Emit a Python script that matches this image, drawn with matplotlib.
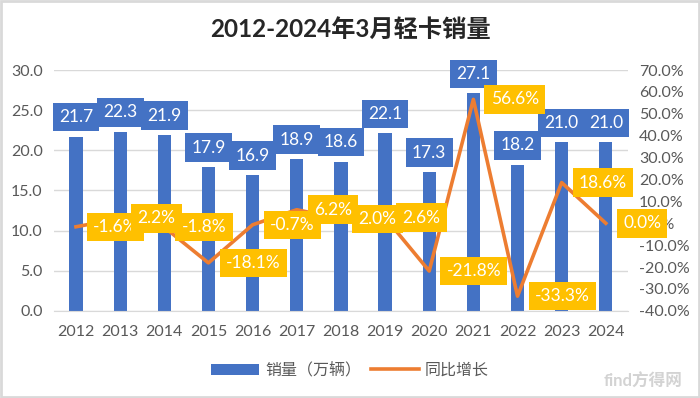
import matplotlib.pyplot as plt
import numpy as np
from matplotlib.patches import Rectangle
from matplotlib.lines import Line2D
from matplotlib.patches import Patch

plt.rcParams['font.family'] = ['Lato', 'Noto Sans CJK SC', 'DejaVu Sans']

years = ['2012', '2013', '2014', '2015', '2016', '2017', '2018',
         '2019', '2020', '2021', '2022', '2023', '2024']
sales = [21.7, 22.3, 21.9, 17.9, 16.9, 18.9, 18.6, 22.1, 17.3, 27.1, 18.2, 21.0, 21.0]
growth = [-1.6, 2.2, -1.8, -18.1, -0.7, 6.2, 2.0, 2.6, -21.8, 56.6, -33.3, 18.6, 0.0]

blue = '#4472C4'
orange = '#ED7D31'
gold = '#FFC000'
grey = '#595959'

fig = plt.figure(figsize=(7, 3.98), dpi=100)
ax = fig.add_axes([0.077, 0.219, 0.82, 0.605])
ax2 = ax.twinx()

x = np.arange(len(years))
ax.bar(x, sales, width=0.3, color=blue, zorder=2)
ax.set_ylim(0, 30)
ax.set_yticks(np.arange(0, 31, 5))
ax.set_yticklabels([f'{v:.1f}' for v in np.arange(0, 31, 5)])
ax.set_xlim(-0.5, len(years) - 0.5)
ax.set_xticks(x)
ax.set_xticklabels(years)
ax.grid(axis='y', color='#D9D9D9', linewidth=1, zorder=0)
ax.set_axisbelow(True)
for s in ['top', 'right', 'left']:
    ax.spines[s].set_visible(False)
ax.spines['bottom'].set_color('#D9D9D9')
ax.tick_params(axis='y', length=0, labelsize=11.5, labelcolor=grey, pad=8)
ax.tick_params(axis='x', length=0, labelsize=11.5, labelcolor=grey, pad=10)

ax2.plot(x, growth, color=orange, linewidth=2.6, zorder=3)
ax2.set_ylim(-40, 70)
ax2.set_yticks(np.arange(-40, 71, 10))
ax2.set_yticklabels([f'{v:.1f}%' for v in np.arange(-40, 71, 10)])
for s in ax2.spines.values():
    s.set_visible(False)
ax2.tick_params(length=0, labelsize=11.5, labelcolor=grey, pad=8)

for i, v in enumerate(sales):
    ax2.annotate(f'{v:.1f}', xy=(i, (v / 30) * 110 - 40), xytext=(0, 14),
                 textcoords='offset points', ha='center', va='center',
                 color='white', fontsize=12.5, zorder=5,
                 bbox=dict(boxstyle='square,pad=0.36', fc=blue, ec='none'))

for i, g in enumerate(growth):
    ax2.annotate(f'{g:.1f}%', xy=(i, g), xytext=(12.5, 0),
                 textcoords='offset points', ha='left', va='center',
                 color='white', fontsize=12.5, zorder=6,
                 bbox=dict(boxstyle='square,pad=0.36', fc=gold, ec='none'))

fig.text(0.5, 0.925, '2012-2024年3月轻卡销量', ha='center', va='center',
         fontsize=17.5, fontweight='bold', color='#262626')

handles = [Patch(facecolor=blue, edgecolor='none'),
           Line2D([0], [0], color=orange, linewidth=2.6)]
fig.legend(handles, ['销量（万辆）', '同比增长'], loc='center', bbox_to_anchor=(0.5, 0.07),
           ncol=2, frameon=False, fontsize=11.5, labelcolor=grey,
           handlelength=3, columnspacing=0.6, handletextpad=0.4)

fig.text(0.975, 0.04, 'find方得网', ha='right', va='center', fontsize=12,
         color='#C8C8C8', fontweight='bold', alpha=0.8)

fig.patches.append(Rectangle((0.001, 0.002), 0.997, 0.995, transform=fig.transFigure,
                             fill=False, edgecolor='#D9D9D9', linewidth=2))

fig.savefig('out.png', dpi=100)
